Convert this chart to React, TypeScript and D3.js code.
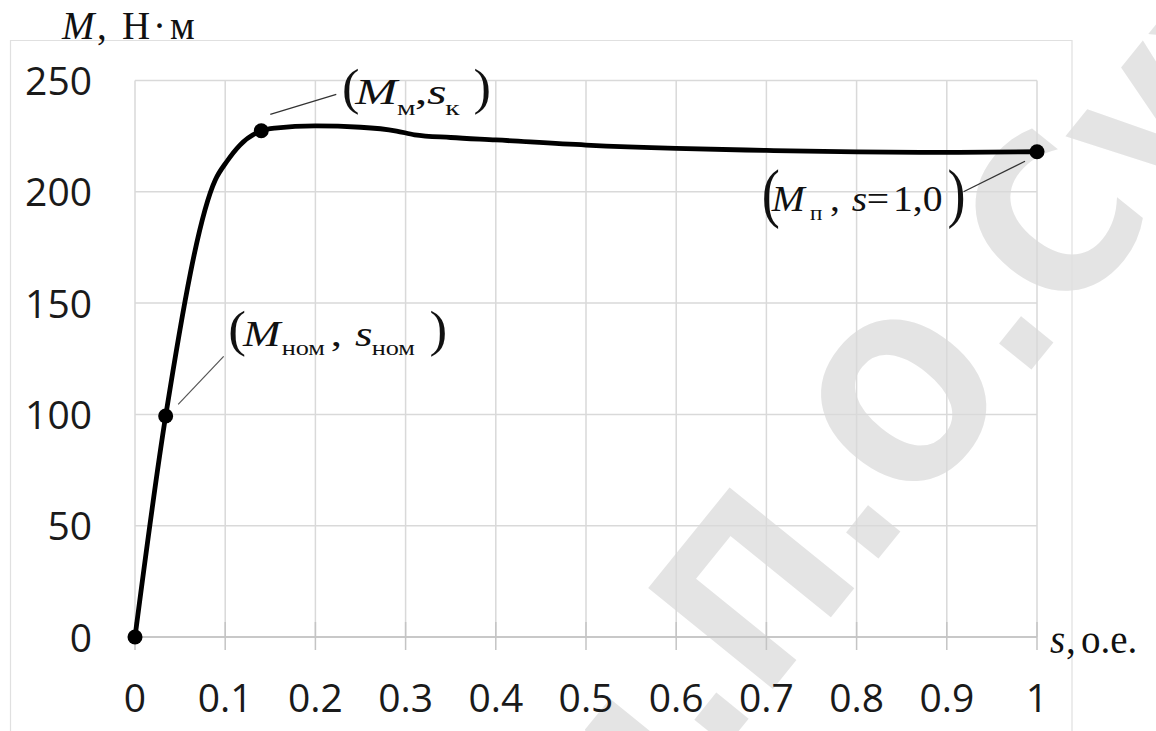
import React from 'react';
import * as d3 from 'd3';

// s (slip, o.e.) and M (torque, N·m)
const slip = [0, 0.034, 0.089, 0.1016, 0.1164, 0.14, 0.155, 0.2, 0.25, 0.29, 0.31, 0.35, 0.4, 0.5, 0.6, 0.7, 0.8, 0.9, 1.0];
const torque = [0, 99.3, 205.3, 213.5, 221, 227.4, 228.6, 229.6, 229.0, 227.3, 225.6, 224.4, 223.3, 221, 219.5, 218.6, 217.9, 217.7, 218];
const markedIdx = [0, 1, 5, 18];
const xTicks = [0, 0.1, 0.2, 0.3, 0.4, 0.5, 0.6, 0.7, 0.8, 0.9, 1];
const xTickLabels = ['0', '0.1', '0.2', '0.3', '0.4', '0.5', '0.6', '0.7', '0.8', '0.9', '1'];
const yTicks = [0, 50, 100, 150, 200, 250];

const W = 1156;
const H = 731;
const serif = '"Liberation Serif", "Times New Roman", serif';
const sans = '"Open Sans", "Noto Sans", sans-serif';

type TProps = {
  x: number;
  y: number;
  size: number;
  italic?: boolean;
  sx?: number;
  sy?: number;
  children: React.ReactNode;
};
function T({ x, y, size, italic, sx = 1, sy = 1, children }: TProps) {
  return (
    <text
      transform={`translate(${x},${y}) scale(${sx},${sy})`}
      fontSize={size}
      fontStyle={italic ? 'italic' : 'normal'}
    >
      {children}
    </text>
  );
}

export default function App() {
  const x = d3.scaleLinear().domain([0, 1]).range([135, 1037]);
  const y = d3.scaleLinear().domain([0, 250]).range([637, 80.5]);
  const pts: [number, number][] = slip.map((s, i) => [s, torque[i]]);
  const line = d3
    .line<[number, number]>()
    .x((d) => x(d[0]))
    .y((d) => y(d[1]))
    .curve(d3.curveMonotoneX);

  const pNom = [x(slip[1]), y(torque[1])];
  const pK = [x(slip[5]), y(torque[5])];
  const pP = [x(slip[18]), y(torque[18])];

  const sub = 21;
  const mS = 36;

  return (
    <svg
      width={W}
      height={H}
      viewBox={`0 0 ${W} ${H}`}
      style={{ position: 'absolute', left: 0, top: 0, display: 'block', background: '#fff' }}
    >
      <rect x={0} y={0} width={W} height={H} fill="#fff" />
      {/* watermark */}
      <text
        transform="translate(525,995) rotate(-51)"
        fontFamily='"DejaVu Sans Condensed", "DejaVu Sans", sans-serif'
        fontWeight="bold"
        fontSize={220}
        fill="#e4e4e4"
      >
        им.П.О.Сухого
      </text>

      {/* outer chart border */}
      <path d={`M10.5,${H} V40.5 H1072 V${H}`} fill="none" stroke="#e0e0e0" strokeWidth={1.2} />

      {/* gridlines */}
      {xTicks.map((t) => (
        <line key={'gx' + t} x1={x(t)} x2={x(t)} y1={y(250)} y2={y(0)} stroke="#d9d9d9" strokeWidth={1.5} />
      ))}
      {yTicks.map((t) => (
        <line
          key={'gy' + t}
          x1={x(0)}
          x2={x(1)}
          y1={y(t)}
          y2={y(t)}
          stroke={t === 0 ? '#c8c8c8' : '#d9d9d9'}
          strokeWidth={t === 0 ? 2 : 1.5}
        />
      ))}
      {/* cross tick marks on x axis */}
      {xTicks.map((t) => (
        <line key={'tk' + t} x1={x(t)} x2={x(t)} y1={y(0) - 15} y2={y(0) + 13} stroke="#c4c4c4" strokeWidth={1.5} />
      ))}

      {/* tick labels */}
      {xTicks.map((t, i) => (
        <text key={'xl' + t} x={x(t)} y={711.5} textAnchor="middle" fontFamily={sans} fontSize={39} fill="#1a1a1a">
          {xTickLabels[i]}
        </text>
      ))}
      {yTicks.map((t) => (
        <text key={'yl' + t} x={92} y={y(t) + 14.5} textAnchor="end" fontFamily={sans} fontSize={39} fill="#1a1a1a">
          {t}
        </text>
      ))}

      {/* axis titles */}
      <text x={62} y={39} fontFamily={serif} fontSize={39} fill="#111">
        <tspan fontStyle="italic">M</tspan>
        <tspan x={97}>,</tspan>
        <tspan x={122}>Н</tspan>
        <tspan x={153}>·</tspan>
        <tspan x={170}>м</tspan>
      </text>
      <text x={1050} y={653} fontFamily={serif} fontSize={39} fill="#111">
        <tspan fontStyle="italic">s</tspan>
        <tspan x={1066}>,</tspan>
        <tspan x={1081}>о.е.</tspan>
      </text>

      {/* leader lines */}
      <line x1={pK[0] + 9} y1={pK[1] - 16.5} x2={pK[0] + 75} y2={pK[1] - 36.5} stroke="#333" strokeWidth={1.3} />
      <line x1={pNom[0] + 12.5} y1={pNom[1] - 11.5} x2={pNom[0] + 58} y2={pNom[1] - 59.5} stroke="#555" strokeWidth={1.2} />
      <line x1={pP[0] - 12} y1={pP[1] + 9.5} x2={pP[0] - 73.5} y2={pP[1] + 40} stroke="#333" strokeWidth={1.3} />

      {/* curve */}
      <path d={line(pts) || ''} fill="none" stroke="#000" strokeWidth={4.8} strokeLinejoin="round" strokeLinecap="round" />
      {markedIdx.map((i) => (
        <circle key={'m' + i} cx={x(slip[i])} cy={y(torque[i])} r={7.5} fill="#000" />
      ))}

      {/* annotation (M_м, s_к) */}
      <g transform={`translate(${pK[0] + 80.7},${pK[1] - 26.4}) scale(1.4,1)`} fontFamily={serif} fill="#111">
        <T x={0} y={0} size={50} sx={0.75}>(</T>
        <T x={9.5} y={0} size={mS} italic>M</T>
        <T x={39.3} y={10.7} size={sub}>м</T>
        <T x={52} y={0} size={mS}>,</T>
        <T x={60.7} y={0} size={mS} italic>s</T>
        <T x={73.8} y={10.7} size={sub}>к</T>
        <T x={94} y={0} size={50} sx={0.75}>)</T>
      </g>

      {/* annotation (M_ном, s_ном) */}
      <g transform={`translate(${pNom[0] + 62.6},${pNom[1] - 70}) scale(1.25,1)`} fontFamily={serif} fill="#111">
        <T x={0} y={0} size={50} sx={0.85}>(</T>
        <T x={11.8} y={0} size={mS} italic>M</T>
        <T x={42.7} y={9} size={sub}>ном</T>
        <T x={82} y={0} size={mS}>,</T>
        <T x={101.4} y={0} size={mS} italic>s</T>
        <T x={114.7} y={9} size={sub}>ном</T>
        <T x={161} y={0} size={50} sx={0.85}>)</T>
      </g>

      {/* annotation (M_п, s=1,0) */}
      <g transform={`translate(${pP[0] - 275.3},${pP[1] + 59}) scale(1.1,1)`} fontFamily={serif} fill="#111">
        <T x={0} y={4.3} size={52} sx={0.95} sy={1.25}>(</T>
        <T x={9.1} y={0} size={mS} italic>M</T>
        <T x={43.9} y={9.3} size={sub}>п</T>
        <T x={62} y={0} size={mS}>,</T>
        <T x={81.8} y={0} size={mS} italic>s</T>
        <T x={95.5} y={0} size={mS}>=</T>
        <T x={119.4} y={0} size={mS}>1,0</T>
        <T x={169} y={4.3} size={52} sx={0.95} sy={1.25}>)</T>
      </g>
    </svg>
  );
}
